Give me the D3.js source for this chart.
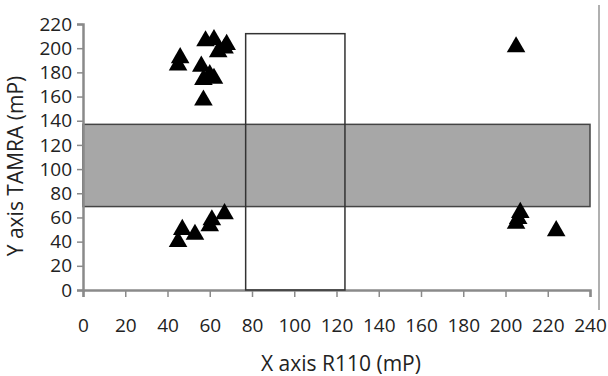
<!DOCTYPE html>
<html>
<head>
<meta charset="utf-8">
<script src="https://cdn.jsdelivr.net/npm/d3@7"></script>
<style>
  body { margin: 0; background: #fff; }
  text { font-family: "Open Sans", sans-serif; fill: #222; }
</style>
</head>
<body>
<div class="chart"></div>
<script>
// data
var xVals = [46, 45, 58, 62, 68, 64, 67, 56, 60, 57, 62, 57,
             47, 45, 53, 60, 61, 67,
             205, 207, 206, 205, 224];
var yVals = [192, 186, 206, 207, 203, 197, 200, 185, 178, 174, 175, 157,
             50, 40, 46, 53, 58, 63,
             201, 64, 59, 55, 49];
var xTicks = [0, 20, 40, 60, 80, 100, 120, 140, 160, 180, 200, 220, 240];
var yTicks = [0, 20, 40, 60, 80, 100, 120, 140, 160, 180, 200, 220];
// horizontal band (y range) and vertical box (x range, y top)
var bandY = [69, 137];
var boxX = [77, 124];
var boxTop = 212;

var w = 608,
    h = 376;

var svg = d3.select('.chart')
    .append('svg')
    .attr('width', w)
    .attr('height', h);

var x = d3.scaleLinear().domain([0, 240]).range([83, 590]);
var y = d3.scaleLinear().domain([0, 220]).range([290, 24]);

// right frame line
svg.append('line')
    .attr('x1', 599).attr('x2', 599)
    .attr('y1', 5).attr('y2', 310)
    .attr('stroke', '#b0b0b0')
    .attr('stroke-width', 2);

/*---------------------------------------------------------------
grey band
---------------------------------------------------------------*/
svg.append('rect')
    .attr('x', x(0))
    .attr('y', y(bandY[1]))
    .attr('width', x(240) - x(0))
    .attr('height', y(bandY[0]) - y(bandY[1]))
    .attr('fill', '#a7a7a7')
    .attr('stroke', '#444')
    .attr('stroke-width', 1.5);

/*---------------------------------------------------------------
axes
---------------------------------------------------------------*/
var yAxis = svg.append('g')
    .attr('transform', 'translate(' + x(0) + ',0)')
    .call(d3.axisLeft(y).tickValues(yTicks).tickSize(6).tickPadding(5));

var xAxis = svg.append('g')
    .attr('transform', 'translate(0,' + y(0) + ')')
    .call(d3.axisBottom(x).tickValues(xTicks).tickSize(7).tickPadding(22));

[yAxis, xAxis].forEach(function(g) {
    g.select('.domain').attr('stroke', '#8a8a8a').attr('stroke-width', 2.5);
    g.selectAll('.tick line').attr('stroke', '#8a8a8a').attr('stroke-width', 1.5);
    g.selectAll('.tick text')
        .attr('font-size', '19px')
        .attr('font-family', '"Open Sans", sans-serif')
        .attr('fill', '#222');
});

/*---------------------------------------------------------------
open box
---------------------------------------------------------------*/
svg.append('rect')
    .attr('x', x(boxX[0]))
    .attr('y', y(boxTop))
    .attr('width', x(boxX[1]) - x(boxX[0]))
    .attr('height', y(0) - y(boxTop))
    .attr('fill', 'none')
    .attr('stroke', '#333')
    .attr('stroke-width', 1.5);

/*---------------------------------------------------------------
triangles
---------------------------------------------------------------*/
var pts = xVals.map(function(d, i) { return [d, yVals[i]]; });

svg.selectAll('path.pt')
    .data(pts)
    .enter()
    .append('path')
    .attr('class', 'pt')
    .attr('d', d3.symbol().type(d3.symbolTriangle).size(150))
    .attr('transform', function(d) {
        return 'translate(' + x(d[0]) + ',' + y(d[1]) + ')';
    })
    .attr('fill', '#000');

/*---------------------------------------------------------------
titles
---------------------------------------------------------------*/
svg.append('text')
    .attr('x', 341)
    .attr('y', 371)
    .attr('text-anchor', 'middle')
    .attr('font-size', '21px')
    .text('X axis R110 (mP)');

svg.append('text')
    .attr('transform', 'translate(23,166) rotate(-90)')
    .attr('text-anchor', 'middle')
    .attr('font-size', '21px')
    .text('Y axis TAMRA (mP)');
</script>
</body>
</html>
